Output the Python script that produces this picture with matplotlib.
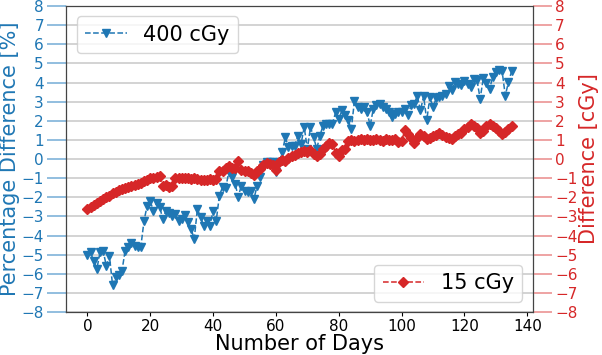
import matplotlib
matplotlib.use("Agg")
import matplotlib.pyplot as plt
import numpy as np

days = list(range(0, 136))

pct_400 = [
    -5.0, -4.88, -5.31, -5.75, -4.88, -4.79, -5.58, -5.05, -6.59, -6.19,
    -6.05, -5.84, -4.79, -4.62, -4.41, -4.53, -4.58, -4.58, -3.25, -2.43,
    -2.21, -2.70, -2.31, -2.52, -3.13, -2.70, -2.84, -2.96, -2.87, -3.22,
    -3.13, -2.90, -3.30, -3.66, -4.18, -2.61, -3.05, -3.48, -3.25, -3.48,
    -2.70, -3.22, -1.91, -1.47, -1.51, -0.69, -0.95, -1.30, -1.96, -1.39,
    -1.65, -1.74, -1.65, -2.09, -1.39, -0.95, -0.30, -0.13, -0.13, -0.17,
    -0.69, -0.17, 0.36, 1.14, 0.62, 0.67, 0.70, 1.23, 0.79, 1.67,
    0.53, 1.67, 1.14, 0.53, 1.23, 1.75, 1.84, 1.84, 1.84, 2.45,
    2.10, 2.54, 2.28, 2.02, 1.58, 3.06, 2.71, 2.63, 2.71, 2.45,
    1.75, 2.63, 2.80, 2.89, 2.71, 2.63, 2.45, 2.19, 2.36, 2.45,
    2.45, 2.62, 2.28, 2.80, 2.89, 3.29, 2.54, 3.29, 2.02, 3.24,
    2.71, 3.18, 3.24, 3.32, 3.41, 3.81, 3.59, 4.02, 3.93, 3.85,
    4.06, 3.93, 3.76, 4.16, 4.11, 3.15, 4.23, 3.99, 3.67, 4.28,
    4.55, 4.63, 4.58, 3.32, 4.01, 4.58,
]

diff_15 = [
    -2.62, -2.52, -2.42, -2.32, -2.20, -2.10, -1.98, -1.92, -1.78, -1.72,
    -1.60, -1.55, -1.52, -1.48, -1.42, -1.38, -1.30, -1.25, -1.15, -1.08,
    -1.00, -0.98, -0.95, -0.88, -1.42, -1.38, -1.45, -1.42, -1.00, -1.00,
    -1.00, -1.00, -1.00, -1.02, -1.00, -1.05, -1.10, -1.08, -1.10, -1.05,
    -1.10, -1.05, -0.65, -0.62, -0.45, -0.35, -0.45, -0.45, -0.10, -0.55,
    -0.60, -0.65, -0.75, -0.82, -0.65, -0.50, -0.30, -0.20, -0.25, -0.30,
    -0.55, -0.15, -0.05, -0.10, 0.05, 0.15, 0.20, 0.30, 0.35, 0.40,
    0.35, 0.45, 0.25, 0.15, 0.25, 0.55, 0.70, 0.85, 0.80, 0.30,
    0.15, 0.45, 0.55, 0.95, 1.00, 0.95, 1.00, 1.05, 1.00, 1.05,
    1.00, 0.98, 1.05, 1.00, 0.95, 1.05, 1.00, 0.98, 1.05, 0.90,
    0.95, 1.50, 1.30, 1.10, 0.85, 1.10, 1.30, 1.20, 1.05, 1.10,
    1.20, 1.25, 1.35, 1.25, 1.15, 1.10, 1.05, 1.20, 1.30, 1.35,
    1.55, 1.70, 1.85, 1.75, 1.60, 1.35, 1.45, 1.75, 1.85, 1.75,
    1.60, 1.45, 1.30, 1.40, 1.55, 1.75,
]

yticks = list(range(-8, 9))

blue = "#1f77b4"
red = "#d62728"

fig = plt.figure(figsize=(6.02, 3.55), dpi=100)
ax = fig.add_axes([0.11, 0.121, 0.775, 0.862])
ax2 = ax.twinx()

for y in yticks:
    ax.axhline(y, color="#cccccc", lw=1.2, zorder=0)

l1, = ax.plot(days, pct_400, linestyle="--", marker="v", color=blue,
              markersize=5.5, lw=1.1, label="400 cGy")
l2, = ax2.plot(days, diff_15, linestyle="--", marker="D", color=red,
               markersize=5, lw=1.1, label="15 cGy")

ax.set_ylim(-8, 8)
ax2.set_ylim(-8, 8)
ax.set_yticks(yticks)
ax2.set_yticks(yticks)
ax.set_xticks(range(0, 141, 20))

ax.tick_params(axis="y", colors=blue, length=14, width=1.2, labelsize=11, pad=2)
ax.tick_params(axis="y", which="major", color="#7fb3d9")
ax2.tick_params(axis="y", colors=red, length=14, width=1.2, labelsize=11, pad=2)
ax2.tick_params(axis="y", which="major", color="#eb9393")
ax.tick_params(axis="x", labelsize=11, length=3, pad=2)
for lab in ax.get_yticklabels():
    lab.set_color(blue)
for lab in ax2.get_yticklabels():
    lab.set_color(red)

ax.set_xlabel("Number of Days", fontsize=15, labelpad=0)
ax.set_ylabel("Percentage Difference [%]", fontsize=15, color=blue, labelpad=1)
ax2.set_ylabel("Difference [cGy]", fontsize=15, color=red, labelpad=1)

for sp in ax2.spines.values():
    sp.set_color("#444444")

ax.legend(handles=[l1], loc="upper left", fontsize=15, framealpha=0.8)
ax2.legend(handles=[l2], loc="lower right", fontsize=15, framealpha=0.8)

fig.savefig("out.png", dpi=100)
